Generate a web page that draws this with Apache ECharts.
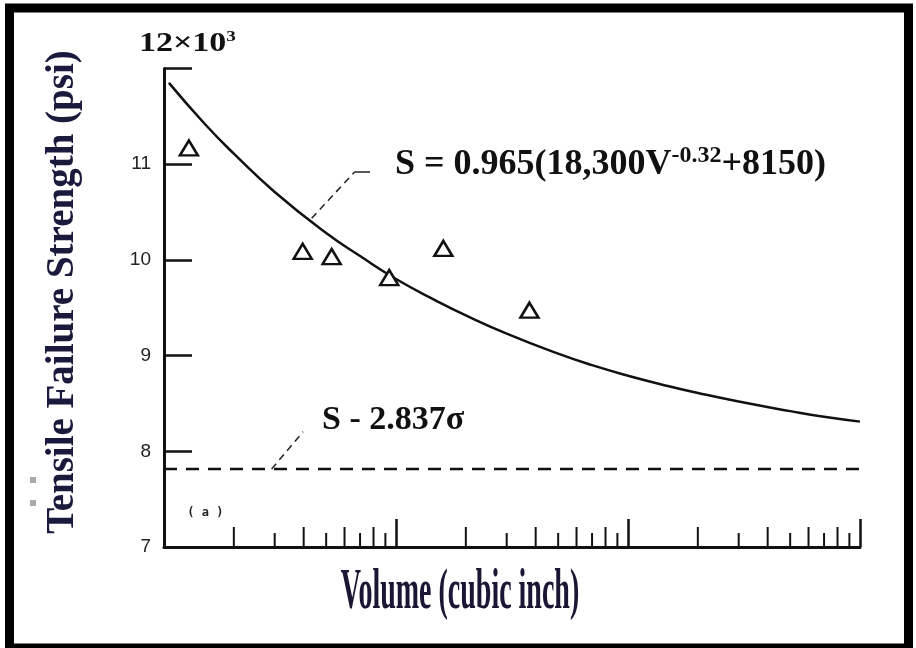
<!DOCTYPE html>
<html>
<head>
<meta charset="utf-8">
<script src="https://cdn.jsdelivr.net/npm/echarts@6/dist/echarts.min.js"></script>
<style>
  html, body { margin: 0; padding: 0; background: #fff; }
  #chart { width: 916px; height: 648px; }
</style>
</head>
<body>
<div id="chart"></div>
<script>
// Fitted strength curve S = 0.965(18,300V^-0.32 + 8150), sampled along the volume axis
const curveVolume   = [105, 150, 200, 300, 500, 700, 1000, 1500, 2000, 3000, 5000, 7000, 10000, 15000, 20000, 30000, 50000, 70000, 100000];
const curveStrength = [11850, 11420, 11110, 10710, 10280, 10040, 9800, 9570, 9420, 9230, 9020, 8900, 8790, 8680, 8610, 8520, 8420, 8360, 8310];

// Test specimens (triangles)
const testVolume   = [128, 396, 528, 935, 1600, 3760];
const testStrength = [11170, 10090, 10035, 9815, 10120, 9475];

// Lower design line S - 2.837σ
const allowableStrength = 7815;

// Axes
const volumeRange = [100, 100000];
const strengthMin = 7000;
const strengthMax = 12000;
const strengthStep = 1000;
const minorTickVolumes = [200, 300, 400, 500, 600, 700, 800, 900,
                          2000, 3000, 4000, 5000, 6000, 7000, 8000, 9000,
                          20000, 30000, 40000, 50000, 60000, 70000, 80000, 90000];

const INK = '#111';
const SERIF = '"Liberation Serif", "DejaVu Serif", serif';

const chart = echarts.init(document.getElementById('chart'), null, { renderer: 'canvas' });

const option = {
  animation: false,
  backgroundColor: '#fff',
  grid: { left: 164, right: 56, top: 68.5, bottom: 101, containLabel: false },
  xAxis: {
    type: 'log',
    logBase: 10,
    min: volumeRange[0],
    max: volumeRange[1],
    axisLine: { show: true, lineStyle: { color: INK, width: 3 } },
    axisTick: { show: true, inside: true, length: 28, lineStyle: { color: INK, width: 2.5 } },
    axisLabel: { show: false },
    splitLine: { show: false },
    minorTick: { show: false }
  },
  yAxis: {
    type: 'value',
    min: strengthMin,
    max: strengthMax,
    interval: strengthStep,
    axisLine: { show: true, lineStyle: { color: INK, width: 3 } },
    axisTick: { show: true, inside: true, length: 28, lineStyle: { color: INK, width: 2.5 } },
    axisLabel: {
      margin: 13,
      color: '#222',
      fontFamily: '"Liberation Sans", Arial, sans-serif',
      fontSize: 19,
      formatter: v => (v >= strengthMax ? '' : String(v / 1000))
    },
    splitLine: { show: false }
  },
  series: [
    {
      name: 'minor ticks',
      type: 'custom',
      silent: true,
      z: 3,
      data: minorTickVolumes.map(v => [v]),
      renderItem: (params, api) => {
        const v = api.value(0);
        const lead = Math.round(v / Math.pow(10, Math.floor(Math.log10(v))));
        const len = lead % 2 === 0 ? 20 : 14;
        const p = api.coord([v, strengthMin]);
        return {
          type: 'line',
          shape: { x1: p[0], y1: p[1], x2: p[0], y2: p[1] - len },
          style: { stroke: INK, lineWidth: 2 }
        };
      }
    },
    {
      name: 'S - 2.837σ',
      type: 'line',
      data: [[volumeRange[0], allowableStrength], [volumeRange[1], allowableStrength]],
      symbol: 'none',
      lineStyle: { color: INK, width: 2.5, type: [13, 9] },
      z: 2,
      markLine: {
        silent: true,
        symbol: 'none',
        label: { show: false },
        lineStyle: { color: '#222', width: 1.5, type: [7, 5] },
        data: [
          [{ coord: [291, allowableStrength] }, { coord: [398, 8205] }]
        ]
      },
      markPoint: {
        symbol: 'circle',
        symbolSize: 0,
        silent: true,
        label: {
          show: true,
          position: 'right',
          distance: 0,
          color: INK,
          fontFamily: SERIF,
          fontWeight: 'bold',
          fontSize: 34,
          formatter: 'S - 2.837σ'
        },
        data: [{ coord: [480, 8320] }]
      }
    },
    {
      name: 'S = 0.965(18,300V^-0.32+8150)',
      type: 'line',
      data: curveVolume.map((v, i) => [v, curveStrength[i]]),
      smooth: true,
      symbol: 'none',
      lineStyle: { color: INK, width: 2.5 },
      z: 3,
      markLine: {
        silent: true,
        symbol: 'none',
        label: { show: false },
        data: [
          [{ coord: [433, 10435], lineStyle: { color: '#222', width: 1.5, type: [7, 5] } }, { coord: [665, 10922] }],
          [{ coord: [665, 10922], lineStyle: { color: '#222', width: 1.5, type: 'solid' } }, { coord: [773, 10922] }]
        ]
      },
      markPoint: {
        symbol: 'circle',
        symbolSize: 0,
        silent: true,
        data: [
          {
            coord: [990, 10990],
            label: {
              show: true,
              position: 'right',
              distance: 0,
              color: INK,
              formatter: '{m|S = 0.965(18,300V}{s|-0.32}{m|+8150)}',
              rich: {
                m: { fontFamily: SERIF, fontWeight: 'bold', fontSize: 36, color: INK, lineHeight: 42 },
                s: { fontFamily: SERIF, fontWeight: 'bold', fontSize: 24, color: INK, verticalAlign: 'top', lineHeight: 42, padding: [0, 0, 14, 0] }
              }
            }
          },
          {
            coord: [126, 7355],
            label: {
              show: true,
              position: 'right',
              distance: 0,
              color: '#222',
              fontFamily: '"DejaVu Sans Mono", monospace',
              fontWeight: 'bold',
              fontSize: 12,
              formatter: '( a )'
            }
          }
        ]
      }
    },
    {
      name: 'Test data',
      type: 'scatter',
      data: testVolume.map((v, i) => [v, testStrength[i]]),
      symbol: 'triangle',
      symbolSize: [18, 15],
      itemStyle: { color: '#fff', borderColor: INK, borderWidth: 2.5, opacity: 1 },
      z: 5
    }
  ],
  graphic: [
    // outer frame
    {
      type: 'rect',
      shape: { x: 9.5, y: 8, width: 899, height: 640 },
      style: { fill: 'none', stroke: '#000', lineWidth: 9 },
      silent: true
    },
    { type: 'rect', shape: { x: 30, y: 477, width: 6, height: 6 }, style: { fill: '#aaa' }, silent: true },
    { type: 'rect', shape: { x: 30, y: 500, width: 6, height: 6 }, style: { fill: '#aaa' }, silent: true },
    // y-axis title
    {
      type: 'text',
      x: 63,
      y: 292,
      rotation: Math.PI / 2,
      silent: true,
      style: {
        text: 'Tensile Failure Strength (psi)',
        font: 'bold 39px ' + SERIF,
        fill: '#1a1a3c',
        align: 'center',
        verticalAlign: 'middle'
      }
    },
    // x-axis title
    {
      type: 'text',
      x: 460,
      y: 594,
      scaleY: 2,
      silent: true,
      style: {
        text: 'Volume (cubic inch)',
        font: 'bold 28px ' + SERIF,
        fill: '#1a1633',
        align: 'center',
        verticalAlign: 'middle'
      }
    },
    // multiplier above the strength axis
    {
      type: 'text',
      x: 139,
      y: 44,
      scaleY: 0.78,
      silent: true,
      style: {
        text: '{a|12×10}{b|3}',
        align: 'left',
        verticalAlign: 'middle',
        rich: {
          a: { font: 'bold 34px ' + SERIF, fill: '#111', lineHeight: 36 },
          b: { font: 'bold 19px ' + SERIF, fill: '#111', verticalAlign: 'top', lineHeight: 36 }
        }
      }
    }
  ]
};

chart.setOption(option);
</script>
</body>
</html>
